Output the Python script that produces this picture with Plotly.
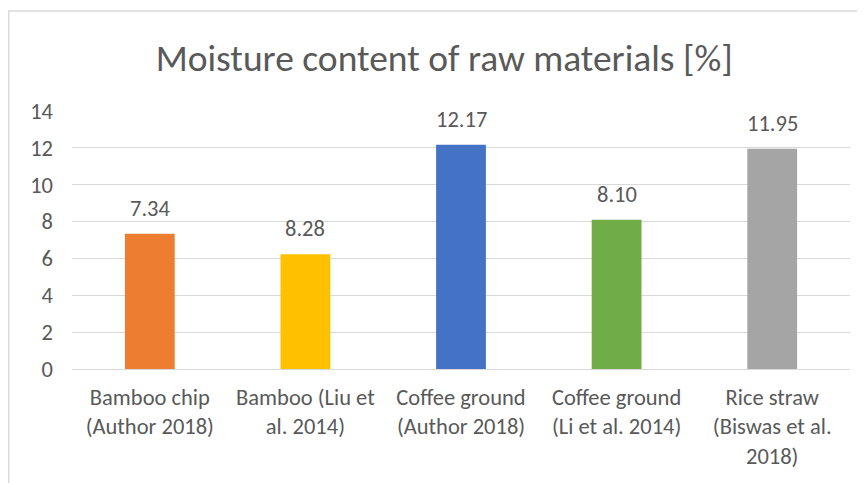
import plotly.graph_objects as go

categories = ["Bamboo chip<br>(Author 2018)", "Bamboo (Liu et<br>al. 2014)", "Coffee ground<br>(Author 2018)",
              "Coffee ground<br>(Li et al. 2014)", "Rice straw<br>(Biswas et al.<br>2018)"]
values = [7.34, 6.22, 12.17, 8.10, 11.95]
labels = ["7.34", "8.28", "12.17", "8.10", "11.95"]
colors = ["#ED7D31", "#FFC000", "#4472C4", "#70AD47", "#A5A5A5"]
y_ticks = [0, 2, 4, 6, 8, 10, 12, 14]

FONT = "Carlito, Calibri, 'Liberation Sans Narrow', 'Open Sans', sans-serif"
TXT = "#595959"

W, H = 857, 475
L, R, T, B = 64, 15, 103, 114
pw, ph = W - L - R, H - T - B

fig = go.Figure(go.Bar(x=categories, y=values, marker_color=colors, marker_line_width=0,
                       hoverinfo="skip"))

for c, v, t in zip(categories, values, labels):
    fig.add_annotation(x=c, y=v, text=t, showarrow=False, yanchor="bottom", yshift=10,
                       font=dict(size=22.5, color=TXT, family=FONT))

def px_x(p):
    return (p - L) / pw

def px_y(p):
    return (H - B - p) / ph

fig.add_shape(type="rect", xref="paper", yref="paper",
              x0=px_x(0.75), x1=px_x(880), y0=px_y(500), y1=px_y(3),
              line=dict(color="#D9D9D9", width=1.5), fillcolor="rgba(0,0,0,0)", layer="below")

fig.update_layout(
    width=W, height=H,
    margin=dict(l=L, r=R, t=T, b=B),
    paper_bgcolor="white", plot_bgcolor="white",
    title=dict(text="Moisture content of raw materials [%]", x=0.509, xanchor="center",
               y=1 - 50 / H, yanchor="middle",
               font=dict(size=37.5, color=TXT, family=FONT)),
    bargap=0.68,
    showlegend=False,
    font=dict(family=FONT, color=TXT, size=22.5),
)
fig.update_yaxes(range=[0, 14], tickvals=y_ticks, showgrid=True, gridcolor="#D9D9D9", gridwidth=1,
                 zeroline=False, showline=False, ticks="", tickfont=dict(size=22.5, color=TXT),
                 ticklabelstandoff=18)
fig.update_xaxes(showline=True, linecolor="#D9D9D9", linewidth=1, ticks="",
                 tickfont=dict(size=22.5, color=TXT), ticklabelstandoff=8, automargin=False)

fig.write_html("out.html")
